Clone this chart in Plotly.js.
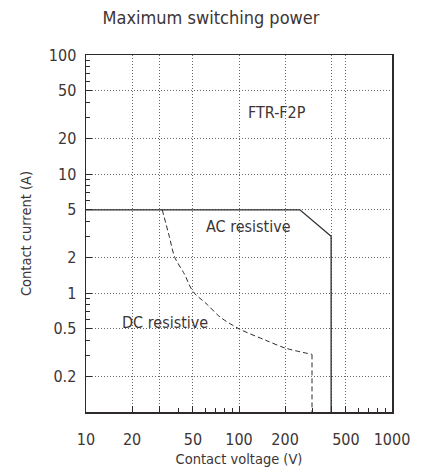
<!DOCTYPE html>
<html>
<head>
<meta charset="utf-8">
<script src="https://cdn.plot.ly/plotly-3.0.1.min.js"></script>
<style>html,body{margin:0;padding:0;background:#fff;}#chart{width:422px;height:476px;}</style>
</head>
<body>
<div id="chart"></div>
<script>
// AC resistive limit
const acVoltage = [10, 250, 400, 400];
const acCurrent = [5, 5, 3, 0.1];
// DC resistive limit (curve, then vertical drop at 300 V)
const dcVoltage = [31.5, 35, 38, 44, 50, 62, 75, 100, 150, 200, 300, 300];
const dcCurrent = [5, 3.0, 2.0, 1.44, 1.03, 0.80, 0.63, 0.50, 0.40, 0.345, 0.305, 0.1];

const xTickVals = [10, 20, 30, 50, 100, 200, 400, 500, 1000];
const xTickText = ['10', '20', '', '50', '100', '200', '', '500', '1000'];
const xMinorVals = [40, 60, 70, 80, 90, 300, 600, 700, 800, 900];
const yTickVals = [0.2, 0.5, 1, 2, 5, 10, 20, 50, 100];
const yTickText = ['0.2', '0.5', '1', '2', '5', '10', '20', '50', '100'];
const yMinorVals = [0.3, 0.4, 0.6, 0.7, 0.8, 0.9, 3, 4, 6, 7, 8, 9, 30, 40, 60, 70, 80, 90];

const labels = [
  {text: 'FTR-F2P', x: 177, y: 32.6},
  {text: 'AC resistive', x: 116, y: 3.59},
  {text: 'DC resistive', x: 32.8, y: 0.57}
];

const textColor = '#3d3535';
const lineColor = '#2e2a2a';
const gridColor = '#666';
const font = 'DejaVu Sans Condensed, DejaVu Sans, sans-serif';

const nCurve = dcVoltage.length - 1;
const traces = [
  {x: acVoltage, y: acCurrent, mode: 'lines', type: 'scatter',
   line: {color: lineColor, width: 1.3}, hoverinfo: 'skip'},
  {x: dcVoltage.slice(0, nCurve), y: dcCurrent.slice(0, nCurve), mode: 'lines', type: 'scatter',
   line: {color: lineColor, width: 1, dash: '5px,3px', shape: 'spline', smoothing: 0.8}, hoverinfo: 'skip'},
  {x: dcVoltage.slice(nCurve - 1), y: dcCurrent.slice(nCurve - 1), mode: 'lines', type: 'scatter',
   line: {color: lineColor, width: 1, dash: '5px,3px'}, hoverinfo: 'skip'},
  // invisible trace hosting the minor-tick axes
  {x: [10, 1000], y: [0.1, 100], xaxis: 'x2', yaxis: 'y2', mode: 'none',
   type: 'scatter', hoverinfo: 'skip'}
];

const axisCommon = {
  ticks: 'inside', tickwidth: 1, tickcolor: lineColor,
  zeroline: false, tickfont: {size: 16, color: textColor}
};

const layout = {
  width: 422, height: 476,
  margin: {l: 86, r: 30, t: 55, b: 64},
  paper_bgcolor: '#fff', plot_bgcolor: '#fff',
  showlegend: false,
  font: {family: font, color: textColor, size: 16},
  title: {text: 'Maximum switching power', x: 0.5, xref: 'container', xanchor: 'center',
          y: 1 - 18/476, yref: 'container', yanchor: 'middle',
          font: {family: font, size: 18, color: textColor}},
  xaxis: Object.assign({}, axisCommon, {
    type: 'log', range: [1, 3],
    tickmode: 'array', tickvals: xTickVals, ticktext: xTickText, ticklen: 6,
    ticklabelstandoff: 12,
    showgrid: true, gridcolor: gridColor, griddash: '1px,2px', gridwidth: 1,
    showline: true, linecolor: lineColor, linewidth: 1.5, mirror: true,
    title: {text: 'Contact voltage (V)', standoff: 6, font: {size: 14.5, color: textColor}}
  }),
  yaxis: Object.assign({}, axisCommon, {
    type: 'log', range: [-1, 2],
    tickmode: 'array', tickvals: yTickVals, ticktext: yTickText, ticklen: 6,
    ticklabelstandoff: 5,
    showgrid: true, gridcolor: gridColor, griddash: '1px,2px', gridwidth: 1,
    showline: true, linecolor: lineColor, linewidth: 1.5, mirror: true,
    title: {text: 'Contact current (A)', standoff: 14, font: {size: 14.5, color: textColor}}
  }),
  xaxis2: Object.assign({}, axisCommon, {
    type: 'log', range: [1, 3], overlaying: 'x', anchor: 'y',
    side: 'bottom', tickmode: 'array', tickvals: xMinorVals, ticklen: 4,
    showticklabels: false, showgrid: false, showline: false
  }),
  yaxis2: Object.assign({}, axisCommon, {
    type: 'log', range: [-1, 2], overlaying: 'y', anchor: 'x',
    side: 'left', tickmode: 'array', tickvals: yMinorVals, ticklen: 4,
    showticklabels: false, showgrid: false, showline: false
  }),
  annotations: labels.map(l => ({
    text: l.text, x: Math.log10(l.x), y: Math.log10(l.y), xref: 'x', yref: 'y',
    showarrow: false, font: {family: font, size: 16, color: textColor}
  }))
};

Plotly.newPlot('chart', traces, layout, {staticPlot: true, displayModeBar: false});
</script>
</body>
</html>
